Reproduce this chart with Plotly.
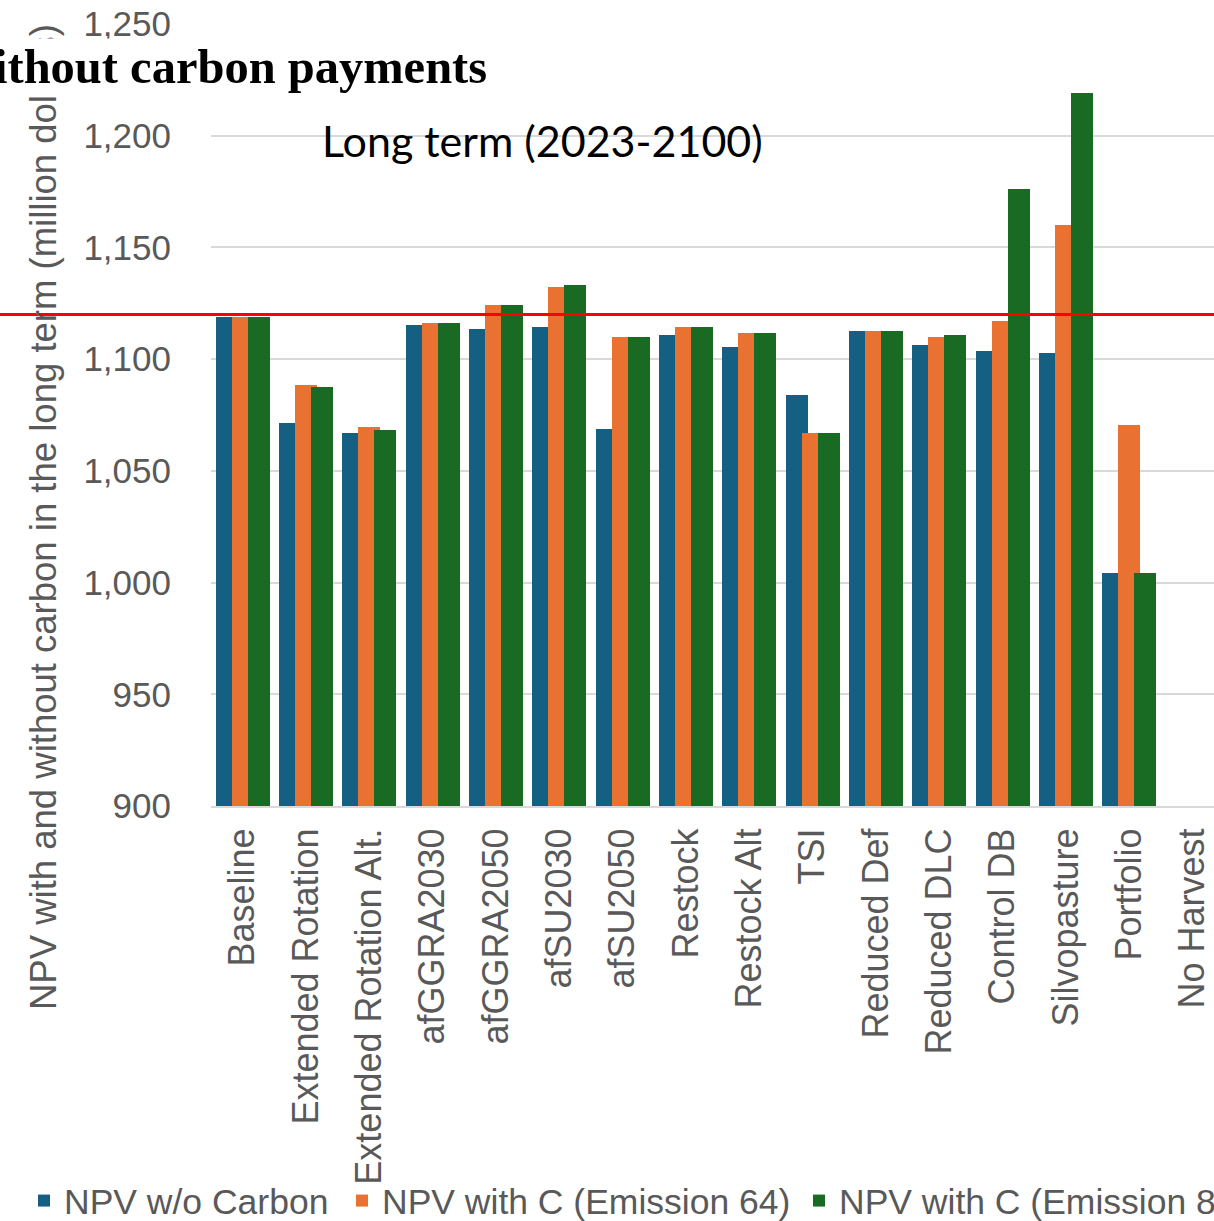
import plotly.graph_objects as go

# Management scenarios on the category axis
scenarios = [
    "Baseline", "Extended Rotation", "Extended Rotation Alt.", "afGGRA2030",
    "afGGRA2050", "afSU2030", "afSU2050", "Restock", "Restock Alt", "TSI",
    "Reduced Def", "Reduced DLC", "Control DB", "Silvopasture", "Portfolio",
    "No Harvest",
]

# Long-term NPV (million dollars), 2023-2100
npv_no_carbon = [1119, 1071.5, 1067, 1115.3, 1113.5, 1114.4, 1068.8, 1110.8,
                 1105.5, 1084, 1112.6, 1106.4, 1103.7, 1102.8, 1004.4, None]
npv_emission_64 = [1119, 1088.5, 1069.7, 1116.2, 1124.3, 1132.3, 1109.9, 1114.4,
                   1111.7, 1067, 1112.6, 1109.9, 1117.1, 1160, 1070.6, None]
npv_emission_85 = [1119, 1087.6, 1068.4, 1116.2, 1124.3, 1133.2, 1109.9, 1114.4,
                   1111.7, 1067, 1112.6, 1110.8, 1176.1, 1219, 1004.4, None]

series_names = ["NPV w/o Carbon", "NPV with C (Emission 64)", "NPV with C (Emission 85)"]
series_colors = ["#156082", "#E97132", "#196B24"]
baseline_level = 1120

y_ticks = [900, 950, 1000, 1050, 1100, 1150, 1200, 1250]

FIG_W, FIG_H = 1300, 1221
M_L, M_R, M_T, M_B = 211, 0, 24, 415
PLOT_W = FIG_W - M_L - M_R
PLOT_H = FIG_H - M_T - M_B
CAT_PX = 63.33  # pixel width of one category slot

x_idx = list(range(len(scenarios)))

fig = go.Figure()
bar_w = 0.3476
offsets = [-0.4265, -0.174, 0.079]
legend_ids = ["legend", "legend2", "legend3"]
for vals, name, col, off, lg in zip([npv_no_carbon, npv_emission_64, npv_emission_85],
                                    series_names, series_colors, offsets, legend_ids):
    fig.add_trace(go.Bar(
        x=x_idx, y=vals, name=name, marker_color=col,
        marker_line_width=0, width=bar_w, offset=off, legend=lg,
    ))

# reference level across the chart
fig.add_shape(type="line", xref="paper", yref="y",
              x0=-M_L / PLOT_W, x1=1, y0=baseline_level, y1=baseline_level,
              line=dict(color="#FF0000", width=3), layer="above")


def px_to_paper_x(px):
    return (px - M_L) / PLOT_W


def px_to_paper_y(py):
    return (FIG_H - M_B - py) / PLOT_H


annotations = [
    dict(text="NPV with and without carbon in the long term (million dollars)",
         xref="paper", yref="paper", textangle=-90,
         x=px_to_paper_x(43), y=px_to_paper_y(1012), xanchor="center", yanchor="bottom",
         showarrow=False,
         font=dict(family="Liberation Sans", size=36.5, color="#595959")),
    dict(text="NPV with and without carbon payments", xref="paper", yref="paper",
         x=px_to_paper_x(489), y=px_to_paper_y(66), xanchor="right", yanchor="middle",
         showarrow=False, bgcolor="white", borderpad=1,
         font=dict(family="Liberation Serif", size=48.5, color="#000000", weight="bold")),
    dict(text="Long term (2023-2100)", xref="paper", yref="paper",
         x=px_to_paper_x(542), y=px_to_paper_y(141), xanchor="center", yanchor="middle",
         showarrow=False,
         font=dict(family="Lato", size=43, color="#000000")),
]

legend_font = dict(family="Liberation Sans", size=35.5, color="#595959")
legend_y = (FIG_H - 1201) / FIG_H
legend_common = dict(orientation="h", xref="container", yref="container",
                     y=legend_y, xanchor="left", yanchor="middle",
                     font=legend_font, bgcolor="rgba(0,0,0,0)", itemclick=False)

fig.update_layout(
    width=FIG_W, height=FIG_H,
    margin=dict(l=M_L, r=M_R, t=M_T, b=M_B, autoexpand=False),
    paper_bgcolor="white", plot_bgcolor="white",
    barmode="overlay", bargap=0,
    showlegend=True,
    legend=dict(x=24 / FIG_W, **legend_common),
    legend2=dict(x=342 / FIG_W, **legend_common),
    legend3=dict(x=799 / FIG_W, **legend_common),
    annotations=annotations,
    font=dict(family="Liberation Sans"),
)

fig.update_xaxes(
    tickmode="array", tickvals=x_idx, ticktext=scenarios,
    range=[-0.5, -0.5 + PLOT_W / CAT_PX],
    tickangle=-90, ticks="outside", ticklen=6, tickcolor="rgba(0,0,0,0)",
    tickfont=dict(family="Liberation Sans", size=36, color="#595959"),
    showline=True, linecolor="#d9d9d9", linewidth=2,
    showgrid=False, zeroline=False, automargin=False,
)
fig.update_yaxes(
    range=[900, 1250], tickvals=y_ticks, tickformat=",d",
    ticks="outside", ticklen=32, tickcolor="rgba(0,0,0,0)",
    tickfont=dict(family="Liberation Sans", size=35, color="#595959"),
    showgrid=True, gridcolor="#d9d9d9", gridwidth=1.5,
    showline=False, zeroline=False, automargin=False,
)

fig.write_html(
    "out.html",
    post_script="document.documentElement.style.overflow='hidden';"
                "document.body.style.overflow='hidden';",
)
